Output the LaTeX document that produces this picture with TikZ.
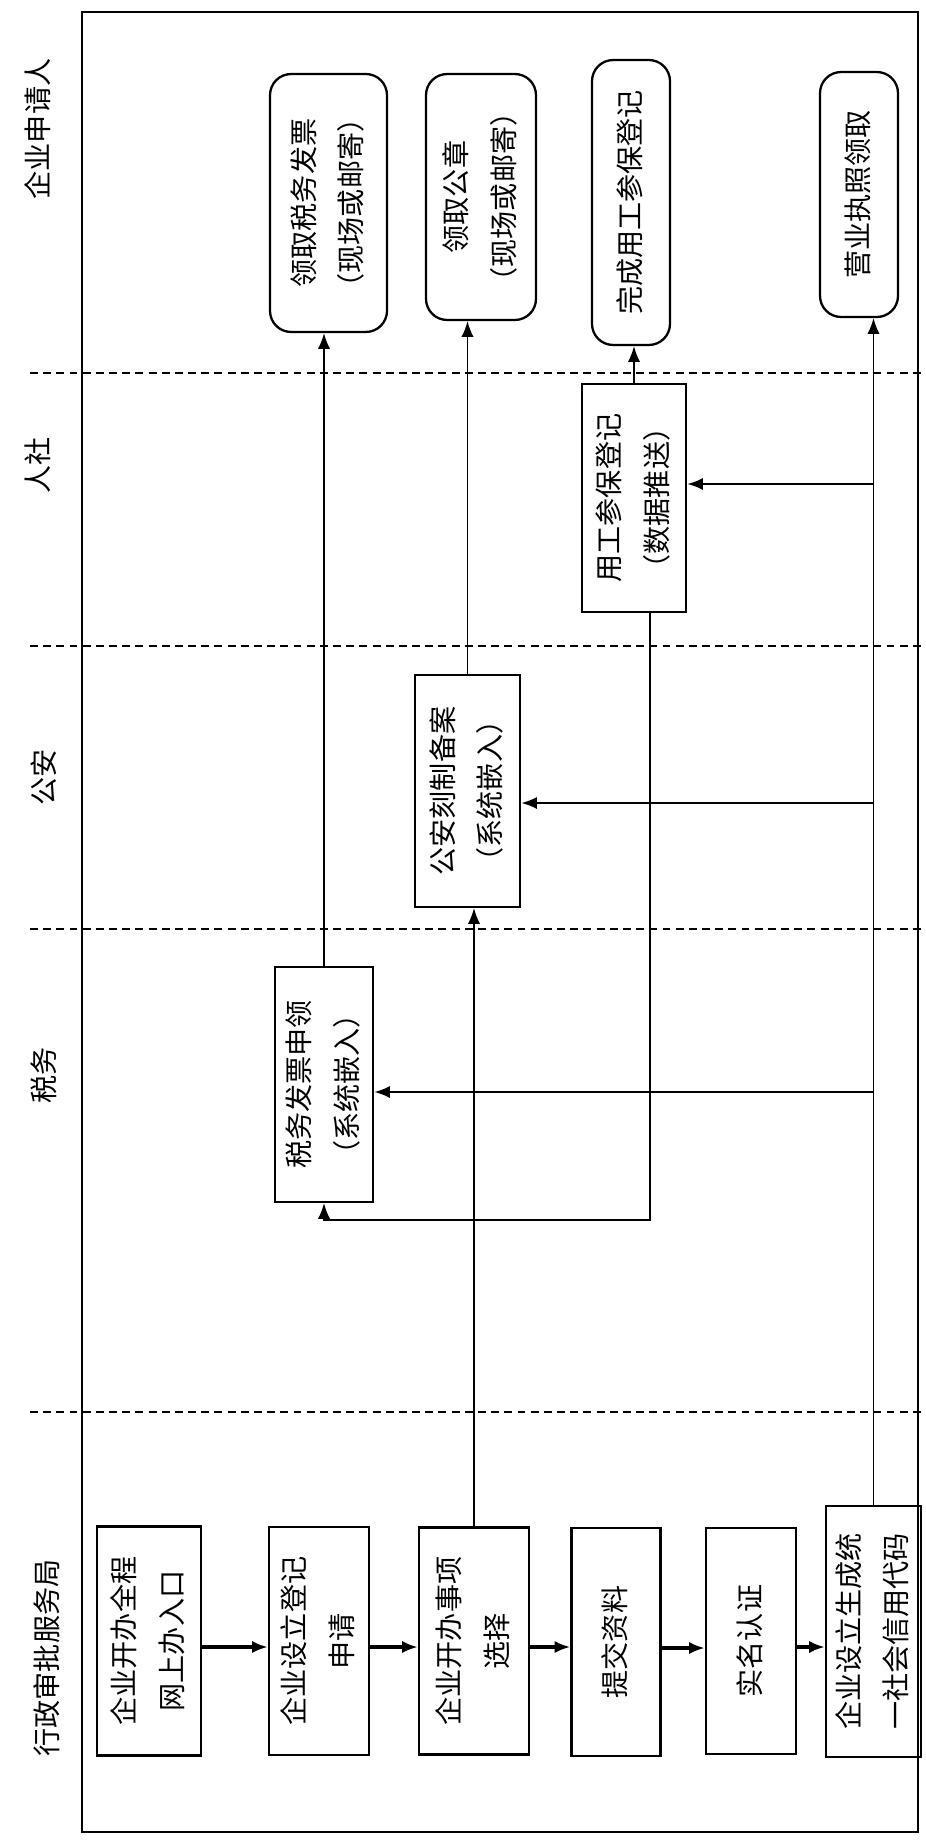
\documentclass[tikz,border=0pt]{standalone}
\usepackage{graphicx}
\usepackage{fontspec}
\setmainfont{Noto Sans CJK SC}
\usetikzlibrary{arrows.meta}

\newcommand{\vtext}[1]{\rotatebox{90}{\begin{tabular}{@{}c@{}}#1\end{tabular}}}

\tikzset{
  box/.style={draw,line width=1.3pt,inner sep=0pt,
    font=\fontsize{16pt}{27pt}\selectfont},
  rbox/.style={box,rounded corners=12pt},
  lanename/.style={inner sep=0pt,font=\fontsize{16pt}{20pt}\selectfont},
  lanesep/.style={dash pattern=on 4.5pt off 3pt,line width=1.1pt},
  flow/.style={-{Latex[length=9pt,width=7pt]},line width=0.85pt},
  push/.style={flow,line width=1.4pt},
  step arrow/.style={flow,line width=1.8pt}
}

\begin{document}
\begin{tikzpicture}[x=0.02cm,y=-0.02cm]
  \useasboundingbox (0,0) rectangle (926,1843);

  % Marco
  \draw[line width=1.1pt] (82,12) rectangle (918,1832);
  \foreach \y in {373,646,929,1412} {
      \draw[lanesep] (30,\y) -- (926,\y);
    }

  % Carriles
  \begin{scope}[every node/.style=lanename]
    \node (L1) at (38,129)  {\rotatebox{90}{企业申请人}};
    \node (L2) at (38,465)  {\rotatebox{90}{人社}};
    \node (L3) at (44,777)  {\rotatebox{90}{公安}};
    \node (L4) at (44,1075) {\rotatebox{90}{税务}};
    \node (L5) at (47,1658) {\rotatebox{90}{行政审批服务局}};
  \end{scope}

  % Pasos
  \node[box,minimum width=2.08cm,minimum height=4.58cm] (B1) at (149,1641) {\vtext{企业开办全程\\网上办入口}};
  \node[box,minimum width=2.0cm,minimum height=4.56cm]  (B2) at (319,1641) {\vtext{企业设立登记\\申请}};
  \node[box,minimum width=2.2cm,minimum height=4.54cm]  (B3) at (474,1641) {\vtext{企业开办事项\\选择}};
  \node[box,minimum width=1.78cm,minimum height=4.56cm] (B4) at (616,1642) {\vtext{提交资料}};
  \node[box,minimum width=1.8cm,minimum height=4.52cm]  (B5) at (751,1641) {\vtext{实名认证}};
  \node[box,minimum width=1.78cm,minimum height=5.02cm] (B6) at (873.5,1631.5) {\vtext{企业设立生成统\\一社会信用代码}};

  % Sistemas
  \node[box,minimum width=2.08cm,minimum height=4.56cm] (E) at (634,498)    {\vtext{用工参保登记\\（数据推送）}};
  \node[box,minimum width=2.1cm,minimum height=4.64cm]  (F) at (467.5,791)  {\vtext{公安刻制备案\\（系统嵌入）}};
  \node[box,minimum width=1.96cm,minimum height=4.7cm]  (G) at (324,1084.5) {\vtext{税务发票申领\\（系统嵌入）}};

  % Resultados
  \node[rbox,minimum width=2.34cm,minimum height=5.16cm] (A1) at (328.5,203) {\vtext{领取税务发票\\（现场或邮寄）}};
  \node[rbox,minimum width=2.2cm,minimum height=4.92cm]  (A2) at (481,197)   {\vtext{领取公章\\（现场或邮寄）}};
  \node[rbox,minimum width=1.56cm,minimum height=5.7cm]  (A3) at (631,202.5) {\vtext{完成用工参保登记}};
  \node[rbox,minimum width=1.56cm,minimum height=4.9cm]  (A4) at (859,194.5) {\vtext{营业执照领取}};

  % Flechas
  \foreach \a/\b in {B1/B2,B2/B3,B3/B4,B4/B5,B5/B6} {
      \draw[step arrow] ([yshift=-0.12cm]\a.east) -- ([yshift=-0.12cm]\a.east -| \b.west);
    }
  \draw[flow] (B6.north) -- (B6.north |- A4.south);
  \foreach \n/\s in {E/0.28,F/-0.24,G/-0.15} {
      \draw[push] ([yshift=\s cm]\n.east -| B6.north) -- ([yshift=\s cm]\n.east);
    }
  \draw[flow] (B3.north) -- (B3.north |- F.south);
  \foreach \a/\b in {G/A1,F/A2,E/A3} {
      \draw[flow] (\a.north) -- (\a.north |- \b.south);
    }
  \coordinate (turn) at (650,1220);
  \draw[flow] (E.south -| turn) -- (turn) -| (G.south);
\end{tikzpicture}
\end{document}
